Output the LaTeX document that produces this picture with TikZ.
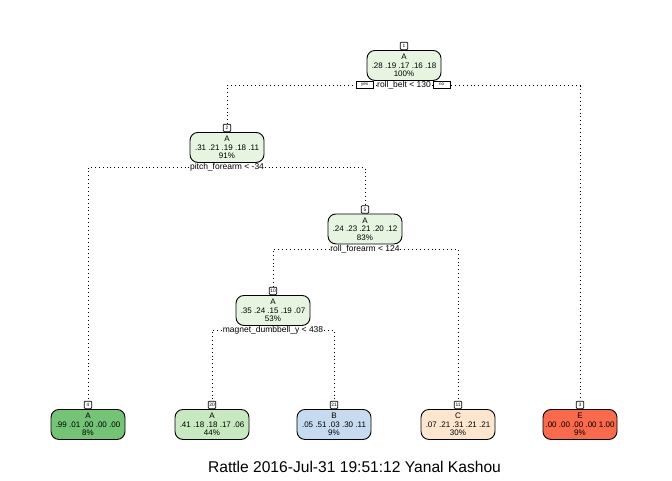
\documentclass[tikz,border=0pt]{standalone}
\usepackage{fontspec}
\setmainfont{Liberation Sans}
\usetikzlibrary{backgrounds}
\definecolor{cInt}{HTML}{E5F5E0}
\definecolor{cAdark}{HTML}{74C476}
\definecolor{cAlight}{HTML}{C7E9C0}
\definecolor{cB}{HTML}{C6DBEF}
\definecolor{cC}{HTML}{FEE6CE}
\definecolor{cE}{HTML}{FB6A4A}
\begin{document}
\begin{tikzpicture}[x=1pt,y=-1pt,
  tnode/.style={draw=black, line width=0.9pt, rounded corners=8pt, minimum width=74pt, minimum height=30pt, inner sep=0pt, align=center, font=\fontsize{8}{8.5}\selectfont, anchor=north},
  numbox/.style={draw=black, line width=0.7pt, fill=white, rounded corners=1pt, inner sep=0.8pt, minimum width=7.5pt, minimum height=7.5pt, font=\fontsize{4.8}{5}\selectfont, anchor=south},
  splitlab/.style={fill=white, inner sep=0.5pt, font=\fontsize{8.5}{9}\selectfont},
  yn/.style={draw=black, line width=0.7pt, fill=white, minimum width=17pt, minimum height=7pt, inner sep=0pt, font=\fontsize{4.5}{5}\selectfont},
  branch/.style={line width=0.9pt, dash pattern=on 0.9pt off 3pt},
]
\path[use as bounding box] (0,0) rectangle (672,480);

% internal nodes
\node[tnode, fill=cInt] (n1) at (404,50) {A\\.28 .19 .17 .16 .18\\100\%};
\node[numbox] (b1) at (n1.north) {1};
\node[splitlab] (s1) at (404,85.5) {roll\_belt < 130};
\node[yn] (yes) at (364.5,84.5) {yes};
\node[yn] (no) at (441.5,84.5) {no};

\node[tnode, fill=cInt] (n2) at (227,132) {A\\.31 .21 .19 .18 .11\\91\%};
\node[numbox] (b2) at (n2.north) {2};
\node[splitlab] (s2) at (227,167.5) {pitch\_forearm < -34};

\node[tnode, fill=cInt] (n5) at (365,213.5) {A\\.24 .23 .21 .20 .12\\83\%};
\node[numbox] (b5) at (n5.north) {5};
\node[splitlab] (s5) at (365,249) {roll\_forearm < 124};

\node[tnode, fill=cInt] (n10) at (273,295) {A\\.35 .24 .15 .19 .07\\53\%};
\node[numbox] (b10) at (n10.north) {10};
\node[splitlab] (s10) at (273,330.5) {magnet\_dumbbell\_y < 438};

% leaves
\node[tnode, fill=cAdark] (n4) at (88,409) {A\\.99 .01 .00 .00 .00\\8\%};
\node[numbox] (b4) at (n4.north) {4};
\node[tnode, fill=cAlight] (n20) at (212,409) {A\\.41 .18 .18 .17 .06\\44\%};
\node[numbox] (b20) at (n20.north) {20};
\node[tnode, fill=cB] (n21) at (334,409) {B\\.05 .51 .03 .30 .11\\9\%};
\node[numbox] (b21) at (n21.north) {21};
\node[tnode, fill=cC] (n11) at (458,409) {C\\.07 .21 .31 .21 .21\\30\%};
\node[numbox] (b11) at (n11.north) {11};
\node[tnode, fill=cE] (n3) at (580,409) {E\\.00 .00 .00 .00 1.00\\9\%};
\node[numbox] (b3) at (n3.north) {3};

\node[font=\fontsize{15.6}{18}\selectfont] (title) at (354.5,467) {Rattle 2016-Jul-31 19:51:12 Yanal Kashou};

\begin{scope}[on background layer]
\fill[white] (0,0) rectangle (672,480);
\draw[branch] (s1) -| (b2.north);
\draw[branch] (s1) -| (b3.north);
\draw[branch] (s2) -| (b4.north);
\draw[branch] (s2) -| (b5.north);
\draw[branch] (s5) -| (b10.north);
\draw[branch] (s5) -| (b11.north);
\draw[branch] (s10) -| (b20.north);
\draw[branch] (s10) -| (b21.north);
\end{scope}
\end{tikzpicture}
\end{document}
